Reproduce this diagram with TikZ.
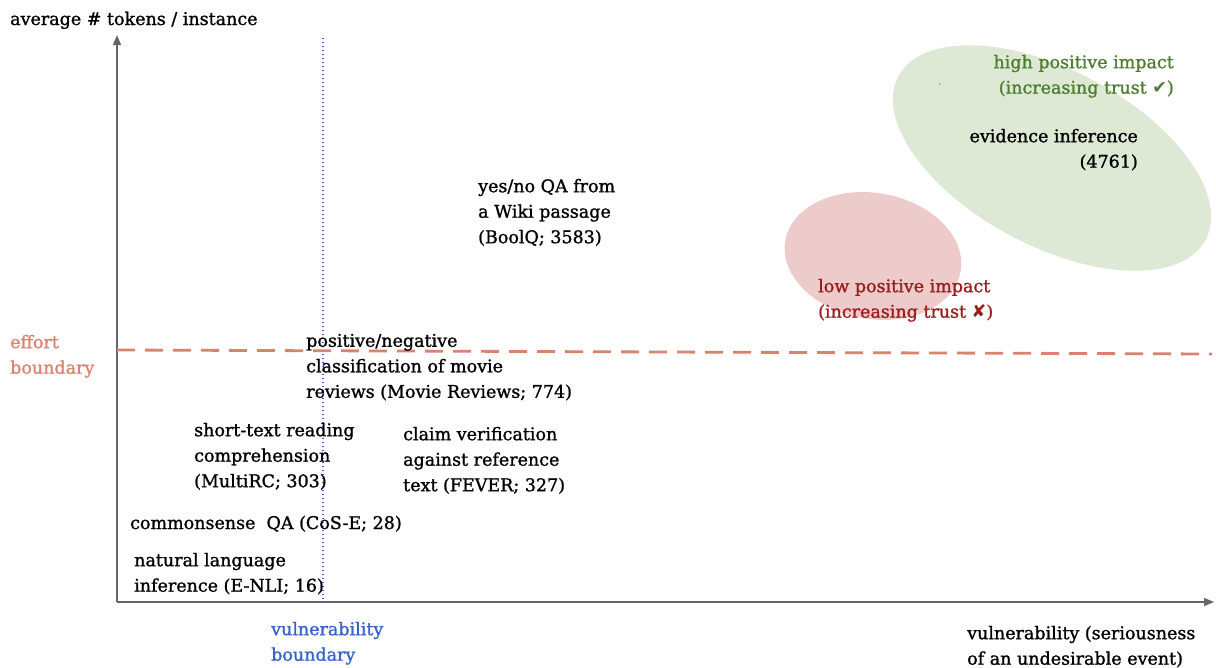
\documentclass[tikz,border=0pt]{standalone}
\usepackage{fontspec}
\setmainfont[FakeBold=1.2]{DejaVu Serif}
\newfontfamily\symfont{DejaVu Sans}
\usetikzlibrary{arrows.meta}
\definecolor{axisgray}{HTML}{666666}
\definecolor{salmon}{HTML}{D9826E}
\definecolor{vblue}{HTML}{3563CC}
\definecolor{hgreen}{HTML}{4E7D2F}
\definecolor{lred}{HTML}{9B1C1C}
\definecolor{greenfill}{HTML}{DDE9D5}
\definecolor{redfill}{HTML}{EDCBCB}
\begin{document}
\begin{tikzpicture}[x=1pt,y=-1pt,
  lbl/.style={inner sep=0pt, align=left, anchor=north west, font=\fontsize{17.5}{25.5}\selectfont},
  rlbl/.style={lbl, align=right, anchor=north east},
  axis/.style={draw=axisgray, line width=1.2pt, -{Triangle[length=10pt,width=8pt]}},
  effortline/.style={draw=salmon, line width=2.8pt, dash pattern=on 18pt off 10pt},
  vulnline/.style={draw=vblue, line width=1.3pt, dash pattern=on 1.3pt off 2.7pt}]
\useasboundingbox (0,0) rectangle (1216,667);
% regions
\fill[greenfill, rotate around={-28:(1052,158)}] (1052,158) ellipse (174 and 88);
\fill[redfill, rotate around={-10:(873,256)}] (873,256) ellipse (89 and 63);
% axes
\coordinate (O) at (117,602);
\coordinate (ytop) at (117,35);
\coordinate (xend) at (1214,602);
\draw[axis] (O) -- (ytop);
\draw[axis] (O) -- (xend);
% boundaries
\coordinate (vb1) at (323,38);
\coordinate (vb2) at (323,600);
\draw[vulnline] (vb1) -- (vb2);
\coordinate (eb1) at (117,350);
\coordinate (eb2) at (1212,354);
\draw[effortline] (eb1) -- (eb2);
% labels
\node[lbl, anchor=base west] (ylab) at (10,25) {average \# tokens / instance};
\node[rlbl, text=hgreen] (high) at (1174,54.7) {high positive impact\\(increasing trust {\symfont ✔})};
\node[inner sep=0pt, font=\fontsize{6}{6}\selectfont, text=black!70] (tick) at (940,86) {\textasciigrave};
\node[rlbl] (evid) at (1138,128.7) {evidence inference\\(4761)};
\node[lbl, text=lred] (low) at (818,278.7) {low positive impact\\(increasing trust {\symfont ✘})};
\node[lbl, text=salmon] (effort) at (10,334.7) {effort\\boundary};
\node[lbl] (movie) at (306,333.7) {positive/negative\\classification of movie\\reviews (Movie Reviews; 774)};
\node[lbl] (boolq) at (478,178.7) {yes/no QA from\\a Wiki passage\\(BoolQ; 3583)};
\node[lbl] (multirc) at (194,422.7) {short-text reading\\comprehension\\(MultiRC; 303)};
\node[lbl] (fever) at (403,426.7) {claim verification\\against reference\\text (FEVER; 327)};
\node[lbl, anchor=base west] (cose) at (130,529) {commonsense~ QA (CoS-E; 28)};
\node[lbl] (enli) at (134,552.7) {natural language\\inference (E-NLI; 16)};
\node[lbl, text=vblue] (vbound) at (271,621.7) {vulnerability\\boundary};
\node[lbl] (xlab) at (967,625.7) {vulnerability (seriousness\\of an undesirable event)};
\end{tikzpicture}
\end{document}
